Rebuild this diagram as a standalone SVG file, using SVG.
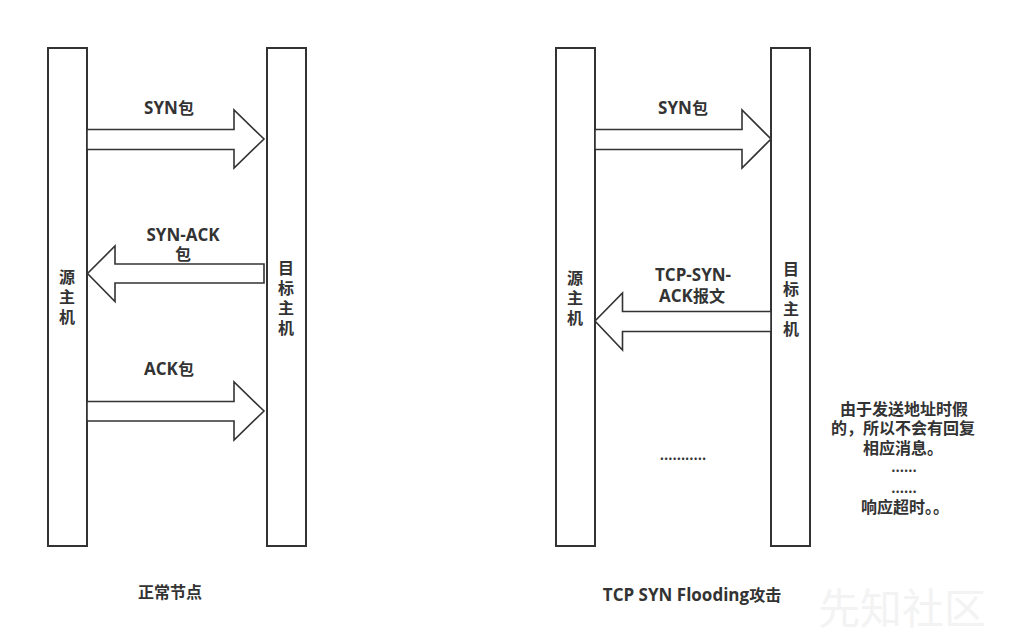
<svg xmlns="http://www.w3.org/2000/svg" width="1010" height="644" viewBox="0 0 1010 644">
<style>
.host{fill:#fff;stroke:#333;stroke-width:2}
.arrow{fill:#fff;stroke:#333;stroke-width:1.6;stroke-linejoin:miter}
text{font-family:"Open Sans","Noto Sans CJK SC",sans-serif;font-weight:bold;font-size:17px;fill:#333;text-anchor:middle}
.c{font-family:"Noto Sans CJK SC","Noto Sans",sans-serif;font-size:16px}
.dots{font-family:"Noto Sans CJK SC","Noto Sans",sans-serif;font-size:13px}
.wm{font-family:"Noto Sans CJK SC",sans-serif;font-size:42px;font-weight:normal;fill:#f3f3f3;text-anchor:start}
</style>
<rect width="1010" height="644" fill="#fff"/>
<text class="wm" x="818" y="624">先知社区</text>
<g id="left-source">
<rect class="host" x="48" y="48" width="39" height="498"/>
<text class="c" x="67" y="283">源</text><text class="c" x="67" y="303">主</text><text class="c" x="67" y="323">机</text>
</g>
<g id="left-target">
<rect class="host" x="267" y="48" width="39" height="498"/>
<text class="c" x="286" y="274">目</text><text class="c" x="286" y="294">标</text><text class="c" x="286" y="314">主</text><text class="c" x="286" y="334">机</text>
</g>
<g id="right-source">
<rect class="host" x="556" y="48" width="39" height="498"/>
<text class="c" x="575" y="284">源</text><text class="c" x="575" y="304">主</text><text class="c" x="575" y="324">机</text>
</g>
<g id="right-target">
<rect class="host" x="771" y="48" width="39" height="498"/>
<text class="c" x="791" y="275">目</text><text class="c" x="791" y="295">标</text><text class="c" x="791" y="315">主</text><text class="c" x="791" y="335">机</text>
</g>
<g id="connectors">
<polygon class="arrow" points="87,129.5 234,129.5 234,110 264,139 234,168 234,149.5 87,149.5"/>
<polygon class="arrow" points="264,264 115,264 115,246 87.5,273.5 115,301.5 115,283 264,283"/>
<polygon class="arrow" points="87,401.5 234,401.5 234,382 264,411 234,440 234,421 87,421"/>
<polygon class="arrow" points="595,129.5 742,129.5 742,110 771,139 742,168 742,149.5 595,149.5"/>
<polygon class="arrow" points="771,311.5 622.5,311.5 622.5,293 595,321 622.5,350 622.5,331.5 771,331.5"/>
</g>
<g id="labels">
<text x="169" y="114">SYN<tspan class="c">包</tspan></text>
<text x="183" y="241">SYN-ACK</text>
<text class="c" x="183" y="260">包</text>
<text x="169" y="375">ACK<tspan class="c">包</tspan></text>
<text class="c" x="170" y="598">正常节点</text>
<text x="683" y="114">SYN<tspan class="c">包</tspan></text>
<text x="693" y="281">TCP-SYN-</text>
<text x="692" y="302">ACK<tspan class="c">报文</tspan></text>
<text class="dots" x="683" y="460">...........</text>
<text x="692" y="601">TCP SYN Flooding<tspan class="c">攻击</tspan></text>
</g>
<g id="note">
<text class="c" x="904" y="415">由于发送地址时假</text>
<text class="c" x="903" y="434">的，所以不会有回复</text>
<text class="c" x="903" y="454">相应消息。</text>
<text class="dots" x="904" y="472">......</text>
<text class="dots" x="904" y="493">......</text>
<text class="c" x="905" y="513">响应超时。。</text>
</g>
</svg>
